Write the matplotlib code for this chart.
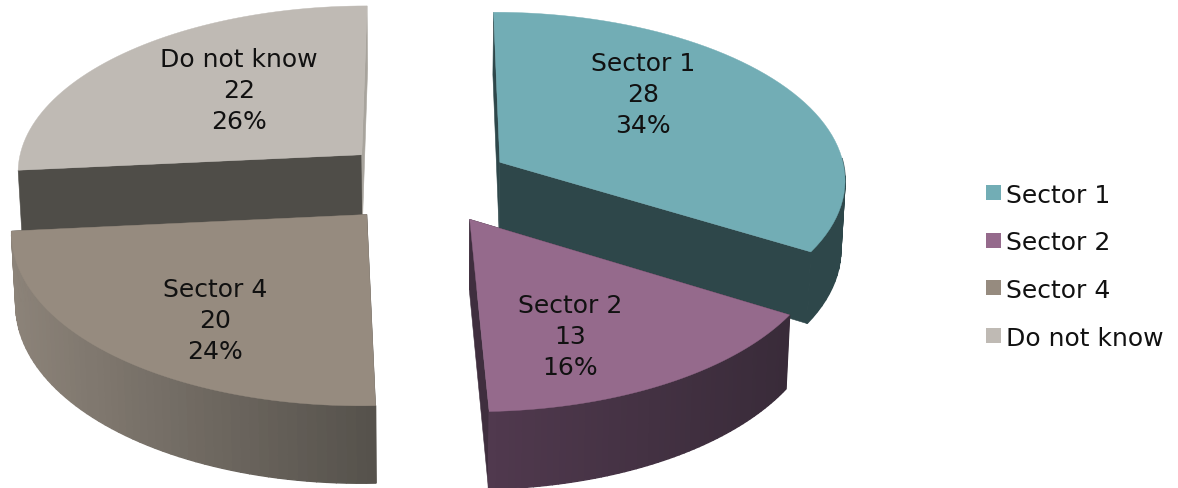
import numpy as np
import matplotlib
matplotlib.use("Agg")
import matplotlib.pyplot as plt
from matplotlib.patches import Polygon, Rectangle

# data
categories = ["Sector 1", "Sector 2", "Sector 4", "Do not know"]
values = [28, 13, 20, 22]
percent_labels = ["34%", "16%", "24%", "26%"]

# colours: top face, cut face, side at left, side at right
top_colors = ["#72adb5", "#956a8c", "#968b7f", "#bfbab4"]
cut_colors = ["#2e474a", "#3f2e3e", "#57534d", "#4f4d48"]
side_left = ["#2e474a", "#50394e", "#8c8379", "#a8a49d"]
side_right = ["#2e474a", "#392b39", "#56524c", "#a8a49d"]

# where the data labels sit, pixels
label_pos = [(643, 95), (570, 337), (215, 321), (239, 91)]
legend_y = [193.5, 241, 288.5, 336.5]

# fake 3d view of the pie
CX, CY = 425, 183.5
RX, RY = 347, 167.4
PERSP = 0.092
EXPLODE = 0.25
DEPTH = 69
SHRINK = 0.99
FONT = "DejaVu Sans"
FSIZE = 18


def project(px, py, bottom=False):
    w = 1 / (1 - PERSP * py)
    x = RX * px * w
    y = CY + RY * py * w
    if bottom:
        x = x * SHRINK
        y = y + DEPTH * w
    return CX + x, y


def to_rgb(c):
    return np.array(matplotlib.colors.to_rgb(c))


fig = plt.figure(figsize=(11.78, 4.89), dpi=100)
ax = fig.add_axes([0, 0, 1, 1])
ax.set_xlim(0, 1178)
ax.set_ylim(489, 0)
ax.axis("off")

total = sum(values)
ends = np.cumsum(values) / total * 2 * np.pi
starts = np.concatenate([[0], ends[:-1]])

# back slices first so the front ones cover them
for i in [3, 0, 2, 1]:
    t0, t1 = starts[i], ends[i]
    mid = (t0 + t1) / 2
    ox, oy = EXPLODE * np.sin(mid), -EXPLODE * np.cos(mid)
    t = np.linspace(t0, t1, 60)
    px = ox + np.sin(t)
    py = oy - np.cos(t)

    # cut faces at both straight edges
    for te in [t0, t1]:
        ex, ey = ox + np.sin(te), oy - np.cos(te)
        pts = [project(ox, oy), project(ex, ey),
               project(ex, ey, True), project(ox, oy, True)]
        col = cut_colors[i]
        if i == 3 and te == t1:
            col = side_left[i]
        ax.add_patch(Polygon(pts, closed=True, fc=col, ec=col, lw=0.4))

    xs_top, ys_top = project(px, py)
    xs_bot, ys_bot = project(px, py, True)

    # outer wall, one strip at a time for the gradient. the back slice shows no wall
    if i != 3:
        vis = (py - oy) > -0.05
        xmin, xmax = xs_top.min(), xs_top.max()
        for k in range(len(t) - 1):
            if not vis[k]:
                continue
            f = (xs_top[k] - xmin) / (xmax - xmin)
            col = to_rgb(side_left[i]) * (1 - f) + to_rgb(side_right[i]) * f
            pts = [(xs_top[k], ys_top[k]), (xs_top[k + 1], ys_top[k + 1]),
                   (xs_bot[k + 1], ys_bot[k + 1]), (xs_bot[k], ys_bot[k])]
            ax.add_patch(Polygon(pts, closed=True, fc=col, ec=col, lw=1.0))

    # top face
    ax0, ay0 = project(ox, oy)
    pts = [(ax0, ay0)] + list(zip(xs_top, ys_top))
    ax.add_patch(Polygon(pts, closed=True, fc=top_colors[i], ec=top_colors[i], lw=0.3))

for i, name in enumerate(categories):
    lx, ly = label_pos[i]
    ax.text(lx, ly, f"{name}\n{values[i]}\n{percent_labels[i]}", ha="center", va="center",
            fontsize=FSIZE, family=FONT, color="#111111", linespacing=1.36)

    ax.add_patch(Rectangle((985.5, legend_y[i] - 7.5), 15, 15, fc=top_colors[i], ec="none"))
    ax.text(1006, legend_y[i], name, ha="left", va="center_baseline",
            fontsize=FSIZE, family=FONT, color="#111111")

fig.savefig("out.png", dpi=100, facecolor="white")
